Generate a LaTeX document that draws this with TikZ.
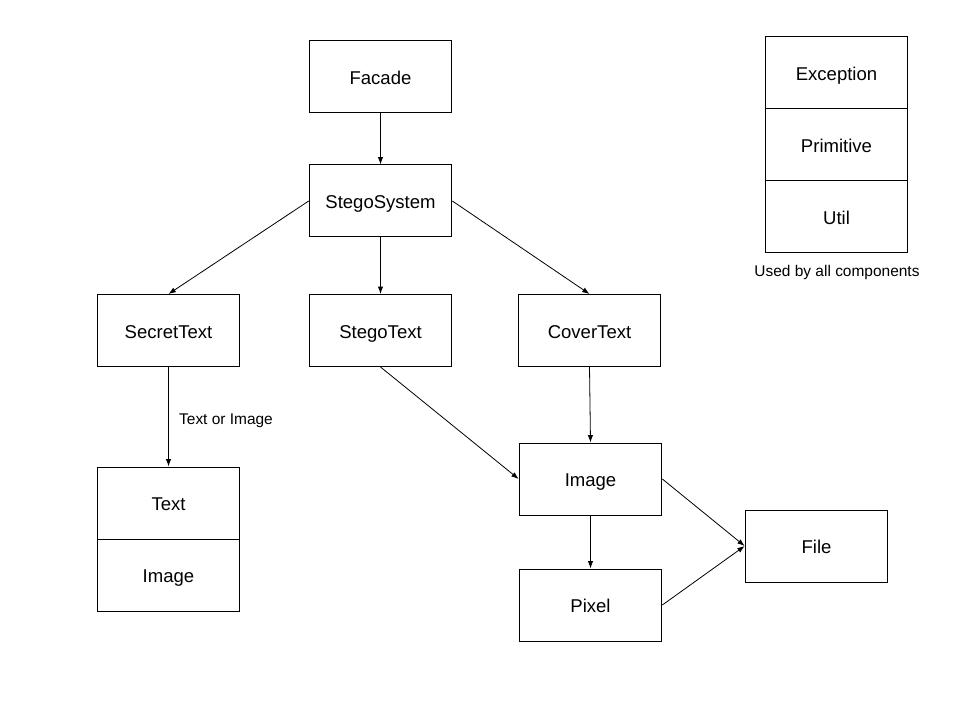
\documentclass[tikz,border=0pt]{standalone}
\usepackage{fontspec}
\setmainfont{Liberation Sans}
\usetikzlibrary{arrows.meta}
\begin{document}
\begin{tikzpicture}[x=0.75pt, y=-0.75pt,
  comp/.style={draw, line width=0.75pt, minimum width=107pt, minimum height=54pt, inner sep=0pt, text height=12.5pt, text depth=1pt, font=\fontsize{13.9}{16}\selectfont},
  note/.style={font=\fontsize{11.6}{14}\selectfont},
  link/.style={line width=0.6pt, -{Latex[length=5.5pt,width=4pt]}}]
\useasboundingbox (0,0) rectangle (960,720);
\node[comp] (facade) at (380.5,77){Facade};
\node[comp] (stegosystem) at (380.5,201){StegoSystem};
\draw[link](facade.south) -- (stegosystem.north);
\node[comp] (secrettext) at (168.5,330.5){SecretText};
\node[comp] (stegotext) at (380.5,330.5){StegoText};
\node[comp] (covertext) at (589.5,330.5){CoverText};
\draw[link](stegosystem.west) -- (secrettext.north);
\draw[link](stegosystem.south) -- (stegotext.north);
\draw[link](stegosystem.east) -- (covertext.north);
\node[comp] (text) at (168.5,503){Text};
\node[comp] (textimage) at (168.5,575){Image};
\draw[link](secrettext.south) -- (text.north);
\node[note] (textorimage) at (226,421){Text or Image};
\node[comp] (image) at (590.5,479){Image};
\node[comp] (pixel) at (590.5,605){Pixel};
\node[comp] (file) at (816.5,546){File};
\draw[link](stegotext.south) -- (image.west);
\draw[link](covertext.south) -- (image.north);
\draw[link](image.south) -- (pixel.north);
\draw[link](image.east) -- (file.west);
\draw[link](pixel.east) -- (file.west);
\node[comp] (exception) at (836.5,73){Exception};
\node[comp] (primitive) at (836.5,145){Primitive};
\node[comp] (util) at (836.5,217){Util};
\node[note] (usedby) at (837,273){Used by all components};
\end{tikzpicture}
\end{document}
